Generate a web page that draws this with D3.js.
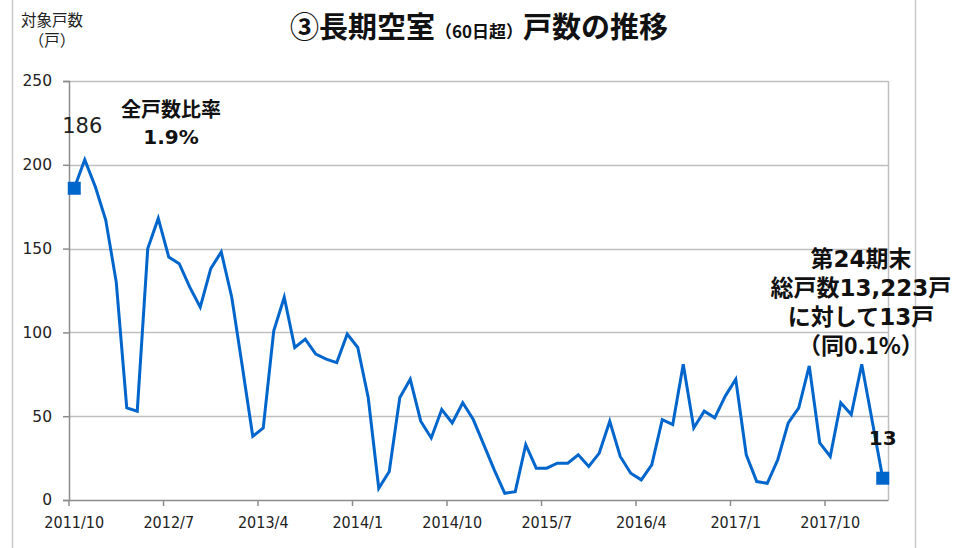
<!DOCTYPE html>
<html>
<head>
<meta charset="utf-8">
<script src="https://cdn.jsdelivr.net/npm/d3@7"></script>
<style>
  html, body { margin: 0; padding: 0; background: #fff; }
  svg { display: block; }
</style>
</head>
<body>
<svg id="chart" width="957" height="548"></svg>
<script>
// Monthly count of units vacant for more than 60 days, 2011/10 – 2018/3
const startYear = 2011, startMonth = 10;
const values = [
  186, 203, 187, 167, 130, 55, 53, 150, 168, 145, 141, 127,
  115, 138, 148, 121, 80, 38, 43, 101, 121, 91, 96, 87,
  84, 82, 99, 91, 61, 7, 17, 61, 72, 47, 37, 54,
  46, 58, 48, 33, 18, 4, 5, 33, 19, 19, 22, 22,
  27, 20, 28, 47, 26, 16, 12, 21, 48, 45, 81, 43,
  53, 49, 62, 72, 27, 11, 10, 24, 46, 55, 80, 34,
  26, 58, 51, 81, 47, 13
];
const months = values.map((_, i) => {
  const m = startMonth - 1 + i;
  return `${startYear + Math.floor(m / 12)}/${(m % 12) + 1}`;
});
const yTicks = [0, 50, 100, 150, 200, 250];
const tickEvery = 9;

const titleMain1 = "③長期空室";
const titleSub = "（60日超）";
const titleMain2 = "戸数の推移";
const yTitle = ["対象戸数", "（戸）"];
const noteLeft = ["全戸数比率", "1.9%"];
const noteRight = ["第24期末", "総戸数13,223戸", "に対して13戸", "（同0.1%）"];

const svg = d3.select("#chart");
const jp = "'Noto Sans CJK JP', 'DejaVu Sans', sans-serif";
const num = "'DejaVu Sans', 'Noto Sans CJK JP', sans-serif";

const plot = { left: 69, right: 888, top: 81, bottom: 500 };

const x = d3.scaleBand().domain(months).range([plot.left, plot.right]).padding(0);
const y = d3.scaleLinear().domain([0, 250]).range([plot.bottom, plot.top]);
const cx = d => x(d) + x.bandwidth() / 2;

// outer frame lines
svg.append("line").attr("x1", 12.5).attr("x2", 12.5).attr("y1", 0).attr("y2", 548)
  .attr("stroke", "#c8c8c8").attr("stroke-width", 1.5);
svg.append("line").attr("x1", 915.5).attr("x2", 915.5).attr("y1", 0).attr("y2", 548)
  .attr("stroke", "#c8c8c8").attr("stroke-width", 1.5);

// horizontal gridlines
svg.append("g").selectAll("line").data(yTicks.filter(t => t > 0)).join("line")
  .attr("x1", plot.left).attr("x2", plot.right)
  .attr("y1", d => Math.round(y(d)) + 0.5).attr("y2", d => Math.round(y(d)) + 0.5)
  .attr("stroke", "#bfbfbf").attr("stroke-width", 1.5);

// right border of plot
svg.append("line").attr("x1", plot.right + 0.5).attr("x2", plot.right + 0.5)
  .attr("y1", plot.top).attr("y2", plot.bottom)
  .attr("stroke", "#bfbfbf").attr("stroke-width", 1.5);

// y axis
const yAxis = svg.append("g").attr("transform", `translate(${plot.left},0)`)
  .call(d3.axisLeft(y).tickValues(yTicks).tickSize(6).tickPadding(11));
yAxis.select(".domain").attr("stroke", "#8c8c8c").attr("stroke-width", 1.5);
yAxis.selectAll(".tick line").attr("stroke", "#8c8c8c").attr("stroke-width", 1.5);
yAxis.selectAll(".tick text").attr("font-family", num).attr("font-size", 15.5).attr("fill", "#222");

// x axis: ticks on category boundaries, labels under the category
const tickCats = months.filter((_, i) => i % tickEvery === 0);
const xAxis = svg.append("g").attr("transform", `translate(0,${plot.bottom})`)
  .call(d3.axisBottom(x).tickValues(tickCats).tickSize(0).tickPadding(17));
xAxis.select(".domain").attr("stroke", "#8c8c8c").attr("stroke-width", 1.5);
xAxis.selectAll(".tick text").attr("font-family", "'DejaVu Sans Condensed', 'DejaVu Sans', sans-serif")
  .attr("font-size", 16).attr("fill", "#222");
xAxis.selectAll(".tick").append("line")
  .attr("x1", -x.bandwidth() / 2).attr("x2", -x.bandwidth() / 2)
  .attr("y1", 0).attr("y2", 6)
  .attr("stroke", "#8c8c8c").attr("stroke-width", 1.5);

// series line
const line = d3.line().x((d, i) => cx(months[i])).y(d => y(d));
svg.append("path").datum(values)
  .attr("d", line).attr("fill", "none")
  .attr("stroke", "#0066cc").attr("stroke-width", 3).attr("stroke-linejoin", "miter");

// end-point markers
const ends = [0, values.length - 1];
svg.append("g").selectAll("rect").data(ends).join("rect")
  .attr("x", i => cx(months[i]) - 6.5).attr("y", i => y(values[i]) - 6.5)
  .attr("width", 13).attr("height", 13).attr("fill", "#0066cc");

// value labels for the end points
svg.append("text").attr("x", cx(months[0]) + 8).attr("y", y(values[0]) - 55)
  .attr("text-anchor", "middle").attr("font-family", num).attr("font-size", 21)
  .attr("fill", "#222").text(values[0]);
svg.append("text").attr("x", cx(months[values.length - 1])).attr("y", y(values[values.length - 1]) - 33)
  .attr("text-anchor", "middle").attr("font-family", num).attr("font-size", 20)
  .attr("font-weight", "bold").attr("fill", "#111").text(values[values.length - 1]);

// title
const title = svg.append("text").attr("x", 479).attr("y", 38).attr("text-anchor", "middle")
  .attr("font-family", jp).attr("font-weight", "bold").attr("fill", "#111");
title.append("tspan").attr("font-size", 29).text(titleMain1);
title.append("tspan").attr("font-size", 17).text(titleSub);
title.append("tspan").attr("font-size", 29).text(titleMain2);

// y axis title
svg.append("g").selectAll("text").data(yTitle).join("text")
  .attr("x", 52).attr("y", (d, i) => 26 + i * 20).attr("text-anchor", "middle")
  .attr("font-family", jp).attr("font-size", 15.5).attr("fill", "#222").text(d => d);

// annotations
svg.append("g").selectAll("text").data(noteLeft).join("text")
  .attr("x", 171).attr("y", (d, i) => 117 + i * 27).attr("text-anchor", "middle")
  .attr("font-family", (d, i) => i === 0 ? jp : num).attr("font-size", (d, i) => i === 0 ? 20 : 20)
  .attr("font-weight", "bold").attr("fill", "#111").text(d => d);

svg.append("g").selectAll("text").data(noteRight).join("text")
  .attr("x", 861).attr("y", (d, i) => 267 + i * 29).attr("text-anchor", "middle")
  .attr("font-family", (d, i) => i === 3 ? jp : num).attr("font-size", 23)
  .attr("font-weight", "bold").attr("fill", "#111").text(d => d);
</script>
</body>
</html>
